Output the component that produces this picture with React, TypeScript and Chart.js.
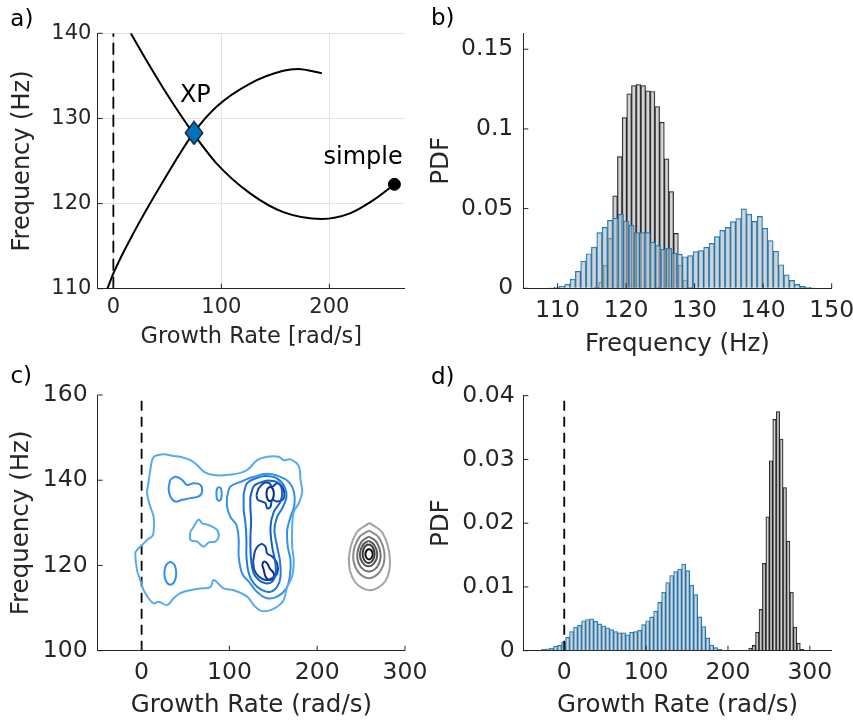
import { useEffect, useRef } from 'react';
import { Chart, registerables } from 'chart.js';

Chart.register(...registerables);

const W = 853;
const H = 722;
const FONT = "'DejaVu Sans', sans-serif";
const INK = '#262626';
const GRID = '#e3e3e3';
const BLUE = '#0072BD';
const BAR_FILL = 'rgba(186,186,186,0.62)';

// ---------- a) the two branches in the growth-rate / frequency plane ----------
const branchFallGrowth = [16.1, 34, 49.4, 74, 95.7, 126.6, 157.4, 193, 219, 240.7, 260.2];
const branchFallFreq = [140, 136.1, 132.9, 128.25, 124.7, 121.2, 119.0, 118.2, 118.85, 120.4, 122.26];
const branchRiseGrowth = [-5.5, 0, 18.5, 43.2, 74, 95.7, 126.6, 157.4, 171, 193];
const branchRiseFreq = [110, 111.8, 116.5, 122.0, 128.25, 131.4, 134.1, 135.6, 135.8, 135.3];
const xpGrowth = 74.7;
const xpFreq = 128.3;
const simpleGrowth = 260.2;
const simpleFreq = 122.26;
const aGrowthTicks = [0, 100, 200];
const aFreqTicks = [110, 120, 130, 140];

// ---------- b) frequency PDFs ----------
const simpleFreqBins = [115.66, 116.34, 117.03, 117.71, 118.39, 119.08, 119.76, 120.44, 121.13, 121.81, 122.49,
  123.18, 123.86, 124.54, 125.23, 125.91, 126.59, 127.28, 127.96, 128.64, 129.33];
const simpleFreqPdf = [0.0006, 0.0038, 0.0146, 0.0314, 0.058, 0.0826, 0.1071, 0.122, 0.1272, 0.1278, 0.1272,
  0.1239, 0.1235, 0.114, 0.1042, 0.0812, 0.0607, 0.0345, 0.0146, 0.0052, 0.0006];
const xpFreqBins = [109.09, 109.87, 110.65, 111.43, 112.21, 112.99, 113.77, 114.55, 115.33, 116.11, 116.89, 117.67,
  118.45, 119.23, 120.01, 120.79, 121.57, 122.35, 123.13, 123.91, 124.69, 125.47, 126.25, 127.03, 127.81, 128.59,
  129.37, 130.15, 130.93, 131.71, 132.49, 133.27, 134.05, 134.83, 135.61, 136.39, 137.17, 137.95, 138.73, 139.51,
  140.29, 141.07, 141.85, 142.63, 143.41, 144.19, 144.97, 145.75, 146.53, 147.31];
const xpFreqPdf = [0.0003, 0.0006, 0.0014, 0.0027, 0.0058, 0.0107, 0.0171, 0.0217, 0.0259, 0.0349, 0.0383, 0.0427,
  0.044, 0.0464, 0.0422, 0.0395, 0.0349, 0.0349, 0.0349, 0.0289, 0.0268, 0.0245, 0.0251, 0.022, 0.0214, 0.0198,
  0.0205, 0.023, 0.0237, 0.0257, 0.0282, 0.0324, 0.0364, 0.0383, 0.0418, 0.0437, 0.0498, 0.0466, 0.042, 0.0452,
  0.0377, 0.0299, 0.0233, 0.0148, 0.0085, 0.005, 0.0025, 0.0013, 0.0006, 0.0002];
const bFreqTicks = [110, 120, 130, 140, 150];
const bPdfTicks = [0, 0.05, 0.1, 0.15];

// ---------- c) joint density contours (growth rate, frequency) ----------
type Pt = [number, number];
const xpRim: Pt[] = [[14.5, 145.7], [25.1, 146.1], [36.5, 145.7], [46.1, 145.4], [55.5, 144.7], [63.2, 143.6],
  [70.7, 142.0], [82.1, 141.2], [104.9, 141.4], [120.2, 142.4], [131.6, 144.7], [143.0, 145.5], [156.2, 145.5],
  [161.9, 144.7], [169.6, 144.9], [179.0, 143.3], [181.0, 140.1], [182.9, 137.3], [179.0, 134.6], [173.3, 132.6],
  [171.5, 129.1], [171.5, 124.4], [173.3, 121.3], [171.5, 117.4], [165.8, 115.0], [161.9, 111.9], [154.4, 110.3],
  [144.8, 109.4], [135.3, 109.4], [127.7, 110.7], [120.2, 112.7], [104.9, 114.2], [93.5, 114.6], [82.1, 116.6],
  [78.3, 114.9], [66.9, 114.6], [55.5, 114.2], [44.1, 113.5], [36.5, 112.3], [29.0, 110.7], [19.4, 111.5],
  [13.7, 111.1], [8.0, 112.3], [2.3, 114.2], [-1.5, 116.6], [-5.2, 118.9], [-7.2, 122.9], [-5.2, 123.6],
  [0.4, 124.8], [6.2, 126.0], [11.9, 126.8], [13.7, 127.9], [13.7, 131.4], [9.9, 133.8], [6.2, 136.9],
  [8.0, 139.7], [9.9, 142.4], [11.9, 144.7]];
const xpMidIsland: Pt[] = [[55.5, 127.9], [59.3, 129.1], [65.0, 130.8], [68.9, 129.9], [76.4, 129.5], [86.0, 128.3],
  [87.8, 126.8], [84.0, 125.6], [76.4, 125.4], [70.7, 124.4], [63.2, 125.6], [55.5, 126.0]];
const xpUpperIsland: Pt[] = [[32.7, 140.1], [38.4, 140.8], [46.1, 140.1], [51.8, 138.9], [59.3, 139.3], [66.9, 138.9],
  [68.9, 137.3], [65.0, 136.2], [55.5, 135.8], [46.1, 135.4], [38.4, 135.0], [32.7, 136.2], [30.8, 138.1]];
const xpSmallIsland: Pt[] = [[88.2, 138.4], [90.3, 138.1], [91.2, 136.8], [90.3, 135.5], [88.2, 135.2], [86.1, 135.5],
  [85.2, 136.8], [86.1, 138.1]];
const xpLowerIsland: Pt[] = [[32.7, 120.9], [37.5, 120.1], [39.5, 118.2], [37.5, 116.3], [32.7, 115.5], [27.9, 116.3],
  [25.9, 118.2], [27.9, 120.1]];
const xpCluster2: Pt[] = [[97.3, 136.1], [101.1, 138.5], [112.5, 139.6], [127.8, 140.8], [143.0, 141.5], [158.2, 140.8],
  [167.7, 139.6], [173.4, 137.3], [174.1, 134.2], [169.6, 131.4], [165.8, 128.3], [166.5, 124.4], [169.6, 121.3],
  [168.8, 117.4], [164.9, 114.6], [154.4, 112.7], [143.0, 112.3], [131.6, 113.8], [122.1, 116.2], [114.5, 118.1],
  [110.6, 122.1], [110.6, 126.0], [108.0, 129.5], [101.1, 131.4], [97.3, 133.8]];
const xpCluster3: Pt[] = [[116.3, 136.9], [120.1, 139.3], [129.6, 140.4], [141.1, 141.0], [154.4, 140.4], [162.7, 138.5],
  [165.0, 136.1], [160.1, 133.4], [154.4, 131.4], [151.3, 128.3], [154.4, 124.4], [157.4, 121.3], [158.2, 117.4],
  [154.4, 115.0], [146.8, 113.8], [137.3, 114.2], [127.8, 115.8], [122.1, 118.1], [119.4, 122.1], [119.4, 126.0],
  [118.3, 129.9], [116.3, 133.0]];
const xpCluster4: Pt[] = [[123.9, 136.1], [127.8, 138.6], [137.3, 139.6], [146.8, 139.9], [156.3, 139.3], [160.1, 137.3],
  [158.2, 135.0], [150.6, 132.6], [146.8, 129.1], [148.7, 124.4], [152.5, 120.5], [152.5, 117.8], [148.7, 116.2],
  [141.1, 115.8], [133.5, 116.6], [127.8, 118.1], [124.7, 121.3], [123.9, 126.0], [124.7, 130.7], [123.9, 133.4]];
const xpCluster5Top: Pt[] = [[130.8, 136.5], [133.5, 138.1], [139.2, 139.3], [144.9, 139.4], [148.7, 138.5],
  [154.4, 139.3], [160.1, 138.5], [162.7, 136.9], [161.2, 135.5], [154.4, 135.0], [148.7, 135.4], [146.8, 133.8],
  [143.0, 133.4], [141.1, 134.6], [137.3, 135.0], [132.3, 135.4]];
const xpCluster5Bottom: Pt[] = [[127.0, 120.9], [129.6, 123.6], [136.1, 125.0], [141.1, 124.4], [143.0, 122.8],
  [148.7, 122.1], [154.4, 120.5], [154.4, 118.1], [148.7, 117.0], [141.1, 116.6], [133.5, 117.4], [128.5, 118.9]];
const xpCoreTop: Pt[] = [[146.4, 138.5], [149.4, 138.0], [150.6, 136.8], [149.4, 135.6], [146.4, 135.1], [143.4, 135.6],
  [142.2, 136.8], [143.4, 138.0]];
const xpCoreBottom: Pt[] = [[137.3, 120.1], [139.2, 120.9], [143.0, 120.5], [146.0, 119.3], [150.6, 118.1],
  [149.8, 117.0], [144.9, 116.6], [141.1, 117.4], [139.2, 118.9]];
const simpleRing1: Pt[] = [[259.5, 130.0], [274.5, 127.6], [282.8, 121.5], [277.5, 116.3], [259.5, 114.2],
  [242.5, 116.3], [236.1, 121.5], [244.5, 127.6]];
const simpleRing2: Pt[] = [[258.9, 128.2], [270.0, 126.6], [276.7, 122.4], [271.6, 118.6], [258.9, 117.0],
  [246.2, 118.6], [241.0, 122.4], [247.8, 126.6]];
const simpleRing3: Pt[] = [[258.9, 126.8], [267.2, 125.6], [272.2, 122.5], [268.4, 119.7], [258.9, 118.6],
  [249.4, 119.7], [245.6, 122.5], [250.6, 125.6]];
const simpleRing4: Pt[] = [[258.5, 125.8], [264.6, 124.9], [268.4, 122.7], [265.5, 120.7], [258.5, 119.8],
  [251.5, 120.7], [248.6, 122.7], [252.4, 124.9]];
const simpleRing5: Pt[] = [[258.5, 125.0], [262.8, 124.4], [265.4, 122.8], [263.4, 121.3], [258.5, 120.6],
  [253.6, 121.3], [251.7, 122.8], [254.2, 124.4]];
const simpleRing6: Pt[] = [[259.0, 123.9], [261.8, 123.5], [263.2, 122.7], [261.9, 121.8], [259.0, 121.4],
  [256.1, 121.8], [254.9, 122.7], [256.2, 123.5]];
const cGrowthTicks = [0, 100, 200, 300];
const cFreqTicks = [100, 120, 140, 160];
const xpLevelColors = ['#55aaf2', '#3490e6', '#2279da', '#1660c6', '#0e45ac', '#0a2a88'];
const simpleLevelColors = ['#a3a3a3', '#888888', '#6e6e6e', '#545454', '#383838', '#0d0d0d'];

// ---------- d) growth-rate PDFs ----------
const xpGrowthBins = [-25.26, -20.37, -15.48, -10.59, -5.7, -0.81, 4.08, 8.97, 13.86, 18.75, 23.64, 28.53, 33.42,
  38.31, 43.2, 48.09, 52.98, 57.87, 62.76, 67.65, 72.54, 77.43, 82.32, 87.21, 92.1, 96.99, 101.88, 106.77, 111.66,
  116.55, 121.44, 126.33, 131.22, 136.11, 141.0, 145.89, 150.78, 155.67, 160.56, 165.45, 170.34, 175.23, 180.12,
  185.01, 189.9, 194.79];
const xpGrowthPdf = [0.0002, 0.0003, 0.0004, 0.0007, 0.00085, 0.0014, 0.0021, 0.003, 0.0037, 0.004, 0.0047, 0.0049,
  0.005, 0.0046, 0.0042, 0.0039, 0.0036, 0.0033, 0.003, 0.0028, 0.0028, 0.0025, 0.0029, 0.003, 0.0032, 0.0041,
  0.0047, 0.0053, 0.0062, 0.0076, 0.0092, 0.0107, 0.0118, 0.0124, 0.0128, 0.0136, 0.01255, 0.0103, 0.0088, 0.0053,
  0.0038, 0.002, 0.0009, 0.0005, 0.0002, 0.0001];
const simpleGrowthBins = [227.4, 231.6, 235.8, 240.0, 244.2, 248.4, 252.6, 256.8, 261.0, 265.2, 269.4, 273.6, 277.8,
  282.0, 286.2, 290.4];
const simpleGrowthPdf = [0.0004, 0.00085, 0.0029, 0.0065, 0.0137, 0.021, 0.0298, 0.0363, 0.0375, 0.0332, 0.0256,
  0.0172, 0.0092, 0.0037, 0.0012, 0.0002];
const dGrowthTicks = [0, 100, 200, 300];
const dPdfTicks = [0, 0.01, 0.02, 0.03, 0.04];

// ---------- layout helpers ----------
type Box = { left: number; top: number; right: number; bottom: number; boxLeft: number; boxBottom: number };
type AxisText = { tick: number; title: number; tickPad: number; titlePad: number };

const layoutFor = (b: Box) => ({
  padding: { left: b.boxLeft, top: b.top, right: W - b.right, bottom: H - b.boxBottom },
});

function xAxis(b: Box, min: number, max: number, ticks: number[], title: string, t: AxisText, grid = false) {
  const height = b.boxBottom - b.bottom;
  return {
    type: 'linear', position: 'bottom', min, max, offset: false,
    afterBuildTicks: (s: any) => { s.ticks = ticks.map((value) => ({ value })); },
    afterFit: (s: any) => { s.height = height; s.paddingLeft = 0; s.paddingRight = 0; },
    ticks: {
      autoSkip: false, maxRotation: 0, minRotation: 0, padding: t.tickPad, color: INK,
      font: { family: FONT, size: t.tick }, callback: (v: any) => String(v),
    },
    grid: grid
      ? { color: GRID, lineWidth: 1, drawTicks: false, offset: false }
      : { drawOnChartArea: false, drawTicks: false, offset: false },
    border: { color: INK, width: 1 },
    title: {
      display: true, text: title, color: INK, font: { family: FONT, size: t.title },
      padding: { top: 0, bottom: t.titlePad },
    },
  };
}

function yAxis(b: Box, min: number, max: number, ticks: number[], title: string, t: AxisText, grid = false) {
  const width = b.left - b.boxLeft;
  return {
    type: 'linear', position: 'left', min, max,
    afterBuildTicks: (s: any) => { s.ticks = ticks.map((value) => ({ value })); },
    afterFit: (s: any) => { s.width = width; s.paddingTop = 0; s.paddingBottom = 0; },
    ticks: {
      autoSkip: false, padding: t.tickPad, color: INK,
      font: { family: FONT, size: t.tick }, callback: (v: any) => String(v),
    },
    grid: grid ? { color: GRID, lineWidth: 1, drawTicks: false } : { drawOnChartArea: false, drawTicks: false },
    border: { color: INK, width: 1 },
    title: {
      display: true, text: title, color: INK, font: { family: FONT, size: t.title },
      padding: { top: t.titlePad, bottom: 0 },
    },
  };
}

const hiddenX = (min: number, max: number) => ({
  type: 'linear', axis: 'x', position: 'bottom', display: false, min, max, offset: false,
});

// short inward tick marks on the bottom and left axes
const inwardTicks = {
  id: 'inwardTicks',
  afterDraw(chart: any) {
    const { ctx, chartArea } = chart;
    const xs = chart.scales.x;
    const ys = chart.scales.y;
    ctx.save();
    ctx.strokeStyle = INK;
    ctx.lineWidth = 1;
    ctx.beginPath();
    xs.ticks.forEach((t: any) => {
      const px = xs.getPixelForValue(t.value);
      ctx.moveTo(px, chartArea.bottom);
      ctx.lineTo(px, chartArea.bottom - 5);
    });
    ys.ticks.forEach((t: any) => {
      const py = ys.getPixelForValue(t.value);
      ctx.moveTo(chartArea.left, py);
      ctx.lineTo(chartArea.left + 5, py);
    });
    ctx.stroke();
    ctx.restore();
  },
};

const panelTag = (text: string, x: number, y: number) => ({
  id: 'panelTag',
  afterDraw(chart: any) {
    const ctx = chart.ctx;
    ctx.save();
    ctx.font = `23px ${FONT}`;
    ctx.fillStyle = '#000';
    ctx.textAlign = 'left';
    ctx.textBaseline = 'alphabetic';
    ctx.fillText(text, x, y);
    ctx.restore();
  },
});

const markerNotes = {
  id: 'markerNotes',
  afterDatasetsDraw(chart: any) {
    const { ctx } = chart;
    const { x, y } = chart.scales;
    ctx.save();
    ctx.font = `24px ${FONT}`;
    ctx.fillStyle = '#000';
    ctx.textAlign = 'center';
    ctx.textBaseline = 'alphabetic';
    ctx.fillText('XP', x.getPixelForValue(75.9), y.getPixelForValue(131.96));
    ctx.fillText('simple', x.getPixelForValue(231.2), y.getPixelForValue(124.64));
    ctx.restore();
  },
};

function diamondMarker() {
  const c = document.createElement('canvas');
  c.width = 20;
  c.height = 25;
  const g = c.getContext('2d')!;
  g.beginPath();
  g.moveTo(10, 1);
  g.lineTo(18.8, 12.5);
  g.lineTo(10, 24);
  g.lineTo(1.2, 12.5);
  g.closePath();
  g.fillStyle = BLUE;
  g.fill();
  g.lineWidth = 1.2;
  g.strokeStyle = '#000';
  g.stroke();
  return c;
}

const xy = (xs: number[], ys: number[]) => xs.map((x, i) => ({ x, y: ys[i] }));

const zeroLine = (y0: number, y1: number, dash: number[]) => ({
  type: 'line',
  data: [{ x: 0, y: y0 }, { x: 0, y: y1 }],
  borderColor: '#000', borderWidth: 1.8, borderDash: dash, pointRadius: 0, showLine: true, fill: false,
});

const contour = (pts: Pt[], color: string) => ({
  data: [...pts, pts[0]].map(([x, y]) => ({ x, y })),
  showLine: true, borderColor: color, borderWidth: 2, pointRadius: 0, tension: 0.35, fill: false,
});

const histogram = (bins: number[], pdf: number[], axisId: string, edge: string, order: number) => ({
  type: 'bar',
  xAxisID: axisId,
  yAxisID: 'y',
  data: xy(bins, pdf),
  backgroundColor: BAR_FILL,
  borderColor: edge,
  borderWidth: 0.8,
  barPercentage: 1,
  categoryPercentage: 1,
  grouped: false,
  order,
});

const baseOptions = {
  responsive: false,
  animation: false,
  devicePixelRatio: 1,
  events: [],
};
const quietPlugins = { legend: { display: false }, tooltip: { enabled: false } };

// ---------- panels ----------
function panelA(): any {
  const box: Box = { left: 97.7, top: 33.3, right: 405, bottom: 288.7, boxLeft: 0, boxBottom: 361 };
  return {
    type: 'scatter',
    data: {
      datasets: [
        { data: [{ x: xpGrowth, y: xpFreq }], pointStyle: diamondMarker(), pointRadius: 10, showLine: false },
        {
          data: [{ x: simpleGrowth, y: simpleFreq }], pointStyle: 'circle', pointRadius: 6,
          backgroundColor: '#000', borderColor: '#000', showLine: false,
        },
        {
          data: xy(branchFallGrowth, branchFallFreq), showLine: true, borderColor: '#000', borderWidth: 2,
          pointRadius: 0, cubicInterpolationMode: 'monotone', fill: false,
        },
        {
          data: xy(branchRiseGrowth, branchRiseFreq), showLine: true, borderColor: '#000', borderWidth: 2,
          pointRadius: 0, cubicInterpolationMode: 'monotone', fill: false,
        },
        zeroLine(110, 140, [12, 6]),
      ],
    },
    options: {
      ...baseOptions,
      layout: layoutFor(box),
      plugins: quietPlugins,
      scales: {
        x: xAxis(box, -14.5, 270, aGrowthTicks, 'Growth Rate [rad/s]', { tick: 21, title: 22.5, tickPad: 6, titlePad: 10.8 }, true),
        y: yAxis(box, 110, 140, aFreqTicks, 'Frequency (Hz)', { tick: 21, title: 24, tickPad: 6.3, titlePad: 8 }, true),
      },
    },
    plugins: [inwardTicks, markerNotes, panelTag('a)', 10.3, 26)],
  };
}

function panelB(): any {
  const box: Box = { left: 523.3, top: 33.3, right: 831.7, bottom: 288.3, boxLeft: 426, boxBottom: 361 };
  return {
    type: 'bar',
    data: {
      datasets: [
        histogram(xpFreqBins, xpFreqPdf, 'xXp', BLUE, 1),
        histogram(simpleFreqBins, simpleFreqPdf, 'xSimple', '#111111', 2),
      ],
    },
    options: {
      ...baseOptions,
      layout: layoutFor(box),
      plugins: quietPlugins,
      scales: {
        x: xAxis(box, 105, 150, bFreqTicks, 'Frequency (Hz)', { tick: 23.5, title: 24.5, tickPad: 8.4, titlePad: 2 }),
        xXp: hiddenX(105, 150),
        xSimple: hiddenX(105, 150),
        y: yAxis(box, 0, 0.16, bPdfTicks, 'PDF', { tick: 23.5, title: 24.5, tickPad: 10, titlePad: 0.5 }),
      },
    },
    plugins: [inwardTicks, panelTag('b)', 431, 24.5)],
  };
}

function panelC(): any {
  const box: Box = { left: 97.7, top: 395, right: 405, bottom: 650.7, boxLeft: 0, boxBottom: 722 };
  const [l1, l2, l3, l4, l5, l6] = xpLevelColors;
  const [g1, g2, g3, g4, g5, g6] = simpleLevelColors;
  return {
    type: 'scatter',
    data: {
      datasets: [
        contour(xpRim, l1), contour(xpMidIsland, l1),
        contour(xpUpperIsland, l2), contour(xpSmallIsland, l2), contour(xpLowerIsland, l2), contour(xpCluster2, l2),
        contour(xpCluster3, l3), contour(xpCluster4, l4),
        contour(xpCluster5Top, l5), contour(xpCluster5Bottom, l5),
        contour(xpCoreTop, l6), contour(xpCoreBottom, l6),
        contour(simpleRing1, g1), contour(simpleRing2, g2), contour(simpleRing3, g3),
        contour(simpleRing4, g4), contour(simpleRing5, g5), contour(simpleRing6, g6),
        zeroLine(100, 160, [10, 6]),
      ],
    },
    options: {
      ...baseOptions,
      layout: layoutFor(box),
      plugins: quietPlugins,
      scales: {
        x: xAxis(box, -50, 300, cGrowthTicks, 'Growth Rate (rad/s)', { tick: 23.5, title: 24.5, tickPad: 8.5, titlePad: 1.8 }),
        y: yAxis(box, 100, 160, cFreqTicks, 'Frequency (Hz)', { tick: 23.5, title: 24.5, tickPad: 10, titlePad: 7.4 }),
      },
    },
    plugins: [inwardTicks, panelTag('c)', 10.4, 382.5)],
  };
}

function panelD(): any {
  const box: Box = { left: 523.3, top: 395.7, right: 831.7, bottom: 650.7, boxLeft: 426, boxBottom: 722 };
  return {
    type: 'bar',
    data: {
      datasets: [
        { ...zeroLine(0, 0.04, [10, 6]), xAxisID: 'x', yAxisID: 'y', order: 0 },
        histogram(xpGrowthBins, xpGrowthPdf, 'xXp', BLUE, 1),
        histogram(simpleGrowthBins, simpleGrowthPdf, 'xSimple', '#111111', 2),
      ],
    },
    options: {
      ...baseOptions,
      layout: layoutFor(box),
      plugins: quietPlugins,
      scales: {
        x: xAxis(box, -50, 326.7, dGrowthTicks, 'Growth Rate (rad/s)', { tick: 23.5, title: 24.5, tickPad: 8, titlePad: 1.8 }),
        xXp: hiddenX(-50, 326.7),
        xSimple: hiddenX(-50, 326.7),
        y: yAxis(box, 0, 0.04, dPdfTicks, 'PDF', { tick: 23.5, title: 24.5, tickPad: 8.7, titlePad: 0.5 }),
      },
    },
    plugins: [inwardTicks, panelTag('d)', 431, 384)],
  };
}

export default function App() {
  const refA = useRef<HTMLCanvasElement>(null);
  const refB = useRef<HTMLCanvasElement>(null);
  const refC = useRef<HTMLCanvasElement>(null);
  const refD = useRef<HTMLCanvasElement>(null);

  useEffect(() => {
    const charts = [
      new Chart(refA.current!, panelA()),
      new Chart(refB.current!, panelB()),
      new Chart(refC.current!, panelC()),
      new Chart(refD.current!, panelD()),
    ];
    return () => charts.forEach((c) => c.destroy());
  }, []);

  const layer = { position: 'absolute' as const, left: 0, top: 0 };
  return (
    <div style={{ position: 'absolute', left: 0, top: 0, width: W, height: H, background: '#fff' }}>
      <canvas ref={refA} width={W} height={H} style={layer} />
      <canvas ref={refB} width={W} height={H} style={layer} />
      <canvas ref={refC} width={W} height={H} style={layer} />
      <canvas ref={refD} width={W} height={H} style={layer} />
    </div>
  );
}
